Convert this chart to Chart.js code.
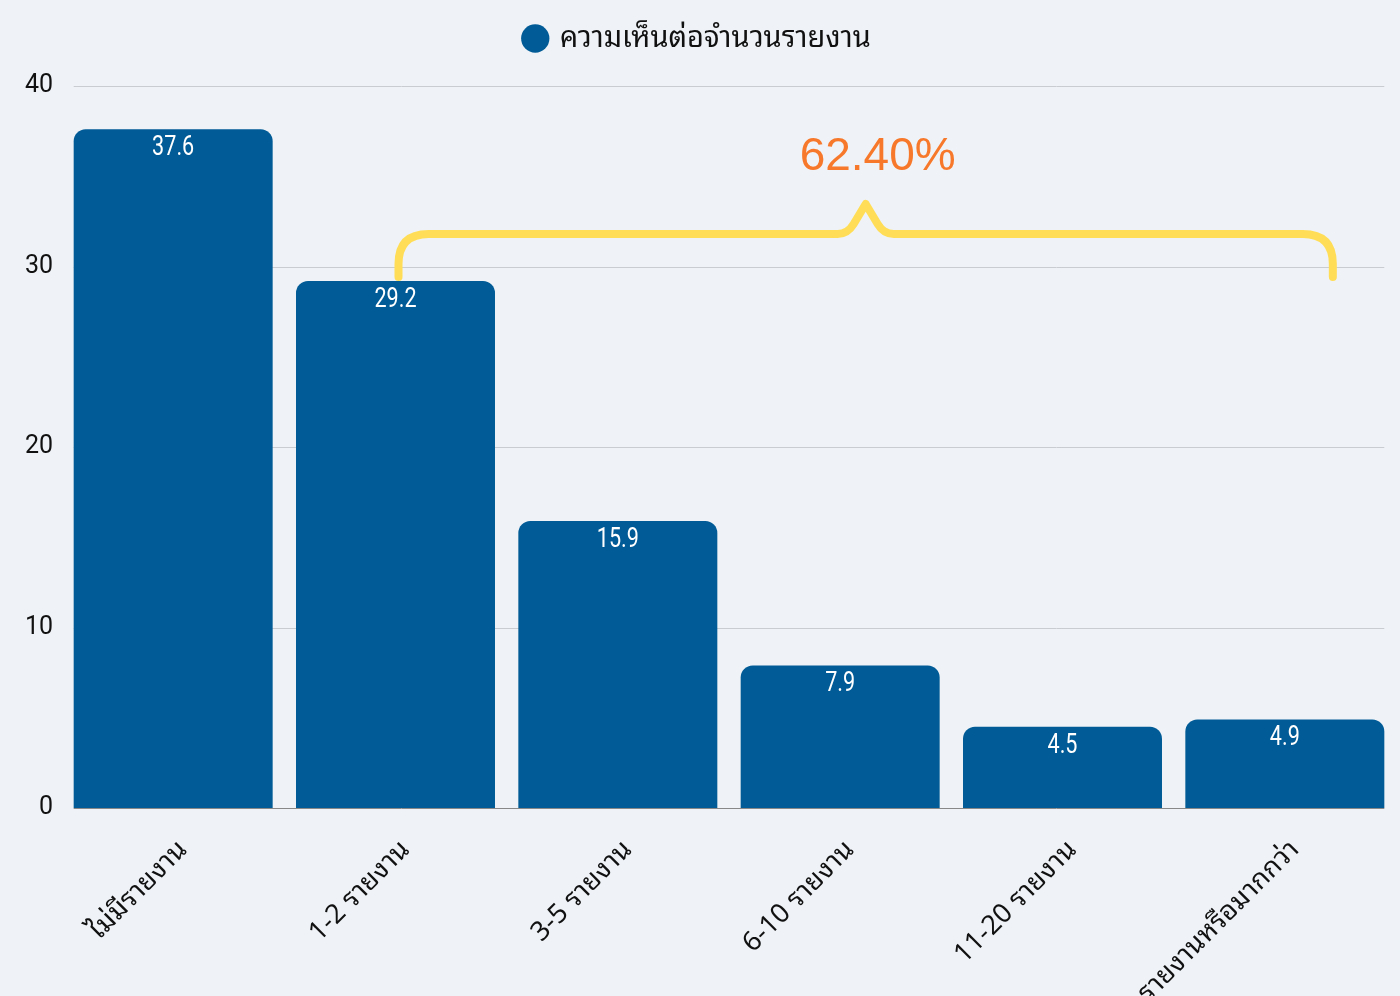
<!DOCTYPE html>
<html>
<head>
<meta charset="utf-8">
<script src="https://cdn.jsdelivr.net/npm/chart.js@4.4.1/dist/chart.umd.min.js"></script>
<style>
  html, body { margin: 0; padding: 0; background: #eff3f7; }
  #wrap { width: 1400px; height: 996px; }
</style>
</head>
<body>
<div id="wrap"><canvas id="reportChart" width="1400" height="996"></canvas></div>
<script>
const categories = ['ไม่มีรายงาน', '1-2 รายงาน', '3-5 รายงาน', '6-10 รายงาน', '11-20 รายงาน', '21 รายงานหรือมากกว่า'];
const opinionShare = [37.6, 29.2, 15.9, 7.9, 4.5, 4.9];
const yTicks = [0, 10, 20, 30, 40];
const seriesName = 'ความเห็นต่อจำนวนรายงาน';
// bars covered by the brace (index 1..5)
const braceFrom = 1;
const braceTo = 5;

const thaiFont = '"Noto Sans Thai Looped", Loma, Garuda, "Tlwg Typo", "Noto Sans", sans-serif';
const braceTotal = opinionShare.slice(braceFrom, braceTo + 1).reduce((a, b) => a + b, 0);

// legend box gets extra room underneath so the plot starts lower
const legendGap = {
    id: 'legendGap',
    afterInit(chart) {
        const lg = chart.legend;
        if (!lg) return;
        const fit = lg.fit.bind(lg);
        lg.fit = function () { fit(); this.height += 23; };
    }
};

// gridlines + baseline only as wide as the bars
const barGrid = {
    id: 'barGrid',
    beforeDatasetsDraw(chart) {
        const c = chart.ctx;
        const meta = chart.getDatasetMeta(0);
        const b0 = meta.data[0], bN = meta.data[meta.data.length - 1];
        const left = b0.x - b0.width / 2;
        const right = bN.x + bN.width / 2;
        const y = chart.scales.y;
        c.save();
        c.lineWidth = 1;
        yTicks.forEach(v => {
            const py = Math.round(y.getPixelForValue(v)) + 0.5;
            c.strokeStyle = v === 0 ? '#888888' : '#c9cdd1';
            c.beginPath();
            c.moveTo(left, py);
            c.lineTo(right, py);
            c.stroke();
        });
        c.restore();
    }
};

// white value labels inside top of bars (condensed look)
const valueLabels = {
    id: 'valueLabels',
    afterDatasetsDraw(chart) {
        const c = chart.ctx;
        const meta = chart.getDatasetMeta(0);
        c.fillStyle = '#ffffff';
        c.font = '27px Roboto, sans-serif';
        c.textAlign = 'center';
        c.textBaseline = 'middle';
        meta.data.forEach((bar, i) => {
            c.save();
            c.translate(bar.x, bar.y + 19);
            c.scale(0.8, 1);
            c.fillText(opinionShare[i].toFixed(1), 0, 0);
            c.restore();
        });
    }
};

// yellow curly brace + total percentage
const braceNote = {
    id: 'braceNote',
    afterDatasetsDraw(chart) {
        const c = chart.ctx;
        const meta = chart.getDatasetMeta(0);
        const first = meta.data[braceFrom];
        const last = meta.data[braceTo];
        const xL = first.x + 3;
        const xR = last.x + 48;
        const top = first.y;
        const yEnd = top - 4;
        const yBar = top - 47;
        const yPeak = top - 77;
        const xMid = (xL + xR) / 2;
        const r = 30;
        c.save();
        c.strokeStyle = '#ffdd57';
        c.lineWidth = 8;
        c.lineCap = 'round';
        c.lineJoin = 'round';
        c.beginPath();
        c.moveTo(xL, yEnd);
        c.lineTo(xL, yBar + r);
        c.quadraticCurveTo(xL, yBar, xL + r, yBar);
        c.lineTo(xMid - 28, yBar);
        c.quadraticCurveTo(xMid - 18, yBar, xMid - 12, yBar - 10);
        c.lineTo(xMid, yPeak);
        c.lineTo(xMid + 12, yBar - 10);
        c.quadraticCurveTo(xMid + 18, yBar, xMid + 28, yBar);
        c.lineTo(xR - r, yBar);
        c.quadraticCurveTo(xR, yBar, xR, yBar + r);
        c.lineTo(xR, yEnd);
        c.stroke();

        c.fillStyle = '#f7782a';
        c.font = '46px "Liberation Sans", Arimo, sans-serif';
        c.textAlign = 'center';
        c.textBaseline = 'middle';
        c.fillText(braceTotal.toFixed(2) + '%', xMid + 12, top - 124);
        c.restore();
    }
};

const ctx = document.getElementById('reportChart').getContext('2d');

let myChart = new Chart(ctx, {
    type: 'bar',
    data: {
        labels: categories,
        datasets: [{
            label: seriesName,
            data: opinionShare,
            backgroundColor: '#005b96',
            borderRadius: 12,
            borderSkipped: 'bottom',
            barPercentage: 0.895,
            categoryPercentage: 1
        }]
    },
    options: {
        responsive: false,
        animation: false,
        layout: { padding: { top: 10, right: 4, left: 0, bottom: 0 } },
        plugins: {
            legend: {
                position: 'top',
                labels: {
                    usePointStyle: true,
                    pointStyle: 'circle',
                    boxWidth: 20,
                    boxHeight: 20,
                    padding: 14,
                    color: '#111111',
                    font: { size: 29, family: thaiFont }
                }
            },
            tooltip: { enabled: false }
        },
        scales: {
            x: {
                grid: { display: false, drawTicks: false },
                border: { display: false },
                ticks: {
                    color: '#111111',
                    maxRotation: 45,
                    minRotation: 45,
                    padding: 26,
                    labelOffset: 10,
                    font: { size: 27, family: thaiFont }
                },
                afterFit(scale) { scale.height = 188; }
            },
            y: {
                min: 0,
                max: 40,
                afterBuildTicks(scale) { scale.ticks = yTicks.map(v => ({ value: v })); },
                grid: { display: false, drawTicks: false },
                border: { display: false },
                ticks: {
                    color: '#111111',
                    padding: 9,
                    font: { size: 25, family: 'Roboto, sans-serif' }
                },
                afterFit(scale) { scale.width = 62; }
            }
        }
    },
    plugins: [legendGap, barGrid, valueLabels, braceNote]
});
</script>
</body>
</html>
